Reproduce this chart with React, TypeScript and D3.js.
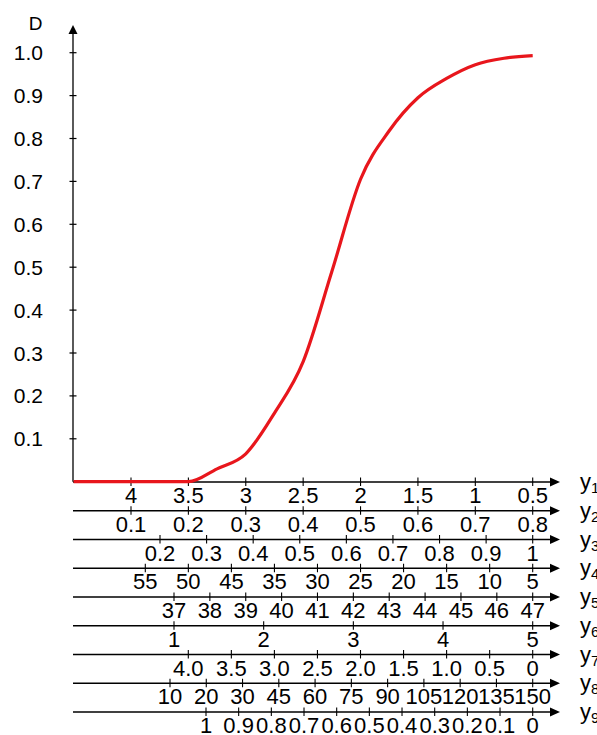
import { useEffect, useRef } from "react";
import * as d3 from "d3";

// curve D against the first parameter y1
const curveY1 = [4.5, 4, 3.5, 3.25, 3, 2.75, 2.5, 2.25, 2, 1.75, 1.5, 1.25, 1, 0.75, 0.5];
const curveD = [0, 0, 0, 0.03, 0.065, 0.16, 0.28, 0.49, 0.705, 0.818, 0.895, 0.94, 0.972, 0.987, 0.993];

const dTicks = [0.1, 0.2, 0.3, 0.4, 0.5, 0.6, 0.7, 0.8, 0.9, 1.0];

// bottom scales, tick labels as printed
const axisNames = ["1", "2", "3", "4", "5", "6", "7", "8", "9"];
const y1Labels = ["4", "3.5", "3", "2.5", "2", "1.5", "1", "0.5"];
const y2Labels = ["0.1", "0.2", "0.3", "0.4", "0.5", "0.6", "0.7", "0.8"];
const y3Labels = ["0.2", "0.3", "0.4", "0.5", "0.6", "0.7", "0.8", "0.9", "1"];
const y4Labels = ["55", "50", "45", "35", "30", "25", "20", "15", "10", "5"];
const y5Labels = ["37", "38", "39", "40", "41", "42", "43", "44", "45", "46", "47"];
const y6Labels = ["1", "2", "3", "4", "5"];
const y7Labels = ["4.0", "3.5", "3.0", "2.5", "2.0", "1.5", "1.0", "0.5", "0"];
const y8Labels = ["10", "20", "30", "45", "60", "75", "90", "105", "120", "135", "150"];
const y9Labels = ["1", "0.9", "0.8", "0.7", "0.6", "0.5", "0.4", "0.3", "0.2", "0.1", "0"];

const allLabels = [y1Labels, y2Labels, y3Labels, y4Labels, y5Labels, y6Labels, y7Labels, y8Labels, y9Labels];
// pixel where the first tick of each scale sits (the last one is shared)
const firstTickX = [131, 131, 160, 145.3, 174, 174, 188.3, 170, 206];

const W = 597;
const H = 735;
const font = "'Liberation Sans', Arial, sans-serif";

const App = () => {
  const svgRef = useRef<SVGSVGElement>(null);

  useEffect(() => {
    const svg = d3.select(svgRef.current);
    svg.selectAll("*").remove();

    const axisX = 73;
    const lastTickX = 532.7;
    const lineEnd = 551;

    const yScale = d3.scaleLinear().domain([0, 1]).range([481.7, 52.7]);
    const xScale = d3.scaleLinear().domain([4, 0.5]).range([131, lastTickX]);
    const rowScale = d3.scalePoint().domain(axisNames).range([482, 712]);

    // vertical D axis
    svg
      .append("line")
      .attr("x1", axisX)
      .attr("x2", axisX)
      .attr("y1", yScale(0))
      .attr("y2", 32)
      .attr("stroke", "#000")
      .attr("stroke-width", 1.3);
    svg
      .append("path")
      .attr("d", `M${axisX},25 L${axisX - 4.5},34 L${axisX + 4.5},34 Z`)
      .attr("fill", "#000");
    svg
      .append("text")
      .attr("x", 35.5)
      .attr("y", 30)
      .attr("text-anchor", "middle")
      .style("font-family", font)
      .style("font-size", "19px")
      .text("D");

    const dAxis = svg.append("g");
    dAxis
      .selectAll("line")
      .data(dTicks)
      .enter()
      .append("line")
      .attr("x1", axisX - 3.5)
      .attr("x2", axisX + 3.5)
      .attr("y1", (d) => yScale(d))
      .attr("y2", (d) => yScale(d))
      .attr("stroke", "#000")
      .attr("stroke-width", 1.2);
    dAxis
      .selectAll("text")
      .data(dTicks)
      .enter()
      .append("text")
      .attr("x", 43)
      .attr("y", (d) => yScale(d) + 7.5)
      .attr("text-anchor", "end")
      .style("font-family", font)
      .style("font-size", "21px")
      .text((d) => d3.format(".1f")(d));

    // the nine horizontal scales
    allLabels.forEach((labels, i) => {
      const rowY = rowScale(axisNames[i]) as number;
      const sx = d3.scalePoint().domain(labels).range([firstTickX[i], lastTickX]);
      const g = svg.append("g");

      g.append("line")
        .attr("x1", axisX)
        .attr("x2", lineEnd)
        .attr("y1", rowY)
        .attr("y2", rowY)
        .attr("stroke", "#000")
        .attr("stroke-width", 1.3);
      g.append("path")
        .attr("d", `M560,${rowY} L550,${rowY - 4.5} L550,${rowY + 4.5} Z`)
        .attr("fill", "#000");

      g.selectAll("line.tick")
        .data(labels)
        .enter()
        .append("line")
        .attr("class", "tick")
        .attr("x1", (d) => sx(d) as number)
        .attr("x2", (d) => sx(d) as number)
        .attr("y1", rowY - 4.5)
        .attr("y2", rowY + 4)
        .attr("stroke", "#000")
        .attr("stroke-width", 1.1);

      g.selectAll("text.lbl")
        .data(labels)
        .enter()
        .append("text")
        .attr("class", "lbl")
        .attr("x", (d) => sx(d) as number)
        .attr("y", rowY + 21)
        .attr("text-anchor", "middle")
        .style("font-family", font)
        .style("font-size", "22px")
        .text((d) => d);

      // axis name, the subscript runs off the right edge as in the source
      const name = g
        .append("text")
        .attr("x", 580)
        .attr("y", rowY + 7)
        .style("font-family", font)
        .style("font-size", "22px")
        .text("y");
      name
        .append("tspan")
        .attr("dy", 4)
        .style("font-size", "15px")
        .text(axisNames[i]);
    });

    // red curve
    const line = d3
      .line<number>()
      .x((d) => xScale(d))
      .y((d, i) => yScale(curveD[i]))
      .curve(d3.curveMonotoneX);

    svg
      .append("path")
      .datum(curveY1)
      .attr("d", line)
      .attr("fill", "none")
      .attr("stroke", "#e8161c")
      .attr("stroke-width", 3.2)
      .attr("stroke-linejoin", "round");
  }, []);

  return (
    <svg
      ref={svgRef}
      width={W}
      height={H}
      viewBox={`0 0 ${W} ${H}`}
      style={{ position: "absolute", left: 0, top: 0, background: "#fff" }}
    ></svg>
  );
};

export default App;
